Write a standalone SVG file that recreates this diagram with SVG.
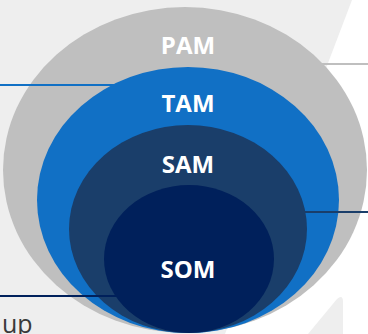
<svg xmlns="http://www.w3.org/2000/svg" width="368" height="334" viewBox="0 0 368 334">
  <style>
    .lbl { font-family: "Open Sans", "Noto Sans", "Liberation Sans", sans-serif; font-weight: bold; font-size: 24px; fill: #FFFFFF; text-anchor: middle; }
    .note { font-family: "Open Sans", "Liberation Sans", sans-serif; font-size: 25px; fill: #3A3A3A; }
    .conn { stroke-width: 2; fill: none; }
  </style>
  <rect x="0" y="0" width="368" height="334" fill="#EEEEEE"/>
  <polygon points="352,0 368,0 368,334 225,334" fill="#FFFFFF"/>
  <path d="M343,334 L343,302 Q343,294 337,299 L308,334 Z" fill="#EEEEEE"/>
  <g id="connector-pam">
    <line class="conn" x1="320" y1="64" x2="368" y2="64" stroke="#BFBFBF"/>
  </g>
  <g id="pam">
    <ellipse cx="185" cy="170" rx="182" ry="163" fill="#BFBFBF"/>
    <text class="lbl" x="188" y="54">PAM</text>
  </g>
  <g id="connector-tam">
    <line class="conn" x1="0" y1="85" x2="130" y2="85" stroke="#1170C5"/>
  </g>
  <g id="tam">
    <ellipse cx="188" cy="200" rx="151" ry="133" fill="#1170C5"/>
    <text class="lbl" x="188" y="112">TAM</text>
  </g>
  <g id="connector-sam">
    <line class="conn" x1="290" y1="212" x2="368" y2="212" stroke="#1A3E6A"/>
  </g>
  <g id="sam">
    <ellipse cx="188" cy="229" rx="119" ry="104" fill="#1A3E6A"/>
    <text class="lbl" x="188" y="173">SAM</text>
  </g>
  <g id="connector-som">
    <line class="conn" x1="0" y1="296" x2="130" y2="296" stroke="#00205B"/>
  </g>
  <g id="som">
    <ellipse cx="189" cy="259" rx="85" ry="74" fill="#00205B"/>
    <text class="lbl" x="188" y="278">SOM</text>
  </g>
  <text class="note" x="2" y="333">up</text>
</svg>
